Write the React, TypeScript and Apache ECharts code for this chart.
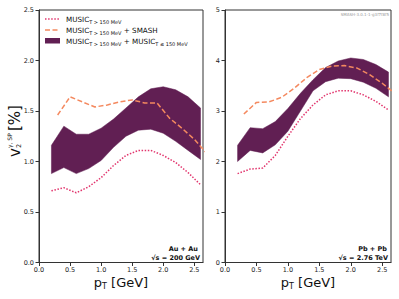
import React, { useEffect, useRef } from "react";
import * as echarts from "echarts";

// transverse momentum grid (GeV)
const pT = [0.2, 0.4, 0.6, 0.8, 1.0, 1.2, 1.4, 1.6, 1.8, 2.0, 2.2, 2.4, 2.6];
const pTSmash = [0.3, 0.5, 0.7, 0.9, 1.1, 1.3, 1.5, 1.7, 1.9, 2.1, 2.3, 2.5, 2.7];

// Au + Au, sqrt(s) = 200 GeV
const auMusic = [0.71, 0.74, 0.69, 0.75, 0.84, 0.96, 1.06, 1.11, 1.11, 1.06, 0.99, 0.89, 0.77];
const auBandLow = [0.88, 0.94, 0.88, 0.93, 1.01, 1.14, 1.25, 1.31, 1.32, 1.28, 1.2, 1.11, 1.02];
const auBandHigh = [1.16, 1.35, 1.27, 1.27, 1.33, 1.42, 1.53, 1.64, 1.72, 1.74, 1.71, 1.64, 1.53];
const auSmash = [1.46, 1.64, 1.59, 1.54, 1.56, 1.59, 1.61, 1.58, 1.58, 1.43, 1.33, 1.22, 1.08];

// Pb + Pb, sqrt(s) = 2.76 TeV
const pbMusic = [1.76, 1.85, 1.87, 2.12, 2.5, 2.85, 3.12, 3.32, 3.4, 3.4, 3.32, 3.19, 3.02];
const pbBandLow = [2.0, 2.22, 2.17, 2.33, 2.6, 3.0, 3.4, 3.58, 3.65, 3.64, 3.57, 3.45, 3.28];
const pbBandHigh = [2.32, 2.67, 2.65, 2.79, 3.05, 3.35, 3.62, 3.86, 3.99, 4.05, 4.02, 3.92, 3.77];
const pbSmash = [2.94, 3.17, 3.18, 3.27, 3.45, 3.66, 3.82, 3.89, 3.9, 3.85, 3.72, 3.55, 3.35];

const xTickValues = [0, 0.5, 1.0, 1.5, 2.0, 2.5];
const auYTicks = [0, 0.5, 1.0, 1.5, 2.0, 2.5];
const pbYTicks = [0, 1, 2, 3, 4, 5];

const COL_BAND = "#611f53";
const COL_DOT = "#e2366e";
const COL_DASH = "#f4895f";
const FONT = "DejaVu Sans";
const AX = "#333";

const pairs = (xs: number[], ys: number[]) => ys.map((y, i) => [xs[i], y]);

function panelSeries(idx: number, music: number[], lo: number[], hi: number[], smash: number[]) {
  return [
    {
      type: "custom",
      xAxisIndex: idx,
      yAxisIndex: idx,
      data: pT.map((x, i) => [x, lo[i], hi[i]]),
      encode: { x: 0, y: [1, 2] },
      silent: true,
      z: 1,
      renderItem: (params: any, api: any) => {
        if (params.dataIndex !== 0) return null;
        const upper = pT.map((x, i) => api.coord([x, hi[i]]));
        const lower = pT.map((x, i) => api.coord([x, lo[i]])).reverse();
        return {
          type: "polygon",
          shape: { points: upper.concat(lower) },
          style: { fill: COL_BAND, stroke: COL_BAND, lineWidth: 0.5 },
        };
      },
    },
    {
      type: "line",
      xAxisIndex: idx,
      yAxisIndex: idx,
      data: pairs(pT, music),
      symbol: "none",
      lineStyle: { color: COL_DOT, width: 1.5, type: [1.5, 1.6] },
      z: 3,
    },
    {
      type: "line",
      xAxisIndex: idx,
      yAxisIndex: idx,
      data: pairs(pTSmash, smash),
      symbol: "none",
      lineStyle: { color: COL_DASH, width: 1.5, type: [5, 2.5] },
      z: 3,
    },
  ];
}

function xAxis(idx: number) {
  return {
    type: "value",
    gridIndex: idx,
    min: 0,
    max: 2.64,
    interval: 0.5,
    axisLine: { show: true, lineStyle: { color: AX, width: 1 } },
    axisTick: { show: true, inside: false, length: 3.5, lineStyle: { color: AX }, customValues: xTickValues },
    axisLabel: {
      color: "#222",
      fontSize: 6.5,
      fontFamily: FONT,
      margin: 4,
      customValues: xTickValues,
      formatter: (v: number) => v.toFixed(1),
    },
    splitLine: { show: false },
  };
}

function yAxis(idx: number, max: number, interval: number, ticks: number[], dec: number) {
  return {
    type: "value",
    gridIndex: idx,
    min: 0,
    max,
    interval,
    axisLine: { show: true, lineStyle: { color: AX, width: 1 } },
    axisTick: { show: true, inside: false, length: 3.5, lineStyle: { color: AX }, customValues: ticks },
    axisLabel: {
      color: "#222",
      fontSize: 6.5,
      fontFamily: FONT,
      margin: 5,
      customValues: ticks,
      formatter: (v: number) => v.toFixed(dec),
    },
    splitLine: { show: false },
  };
}

const subRich = (main: number, sub: number) => ({
  m: { fontSize: main, fontFamily: FONT, fill: "#111", lineHeight: main + 3, verticalAlign: "middle" },
  s: { fontSize: sub, fontFamily: FONT, fill: "#111", lineHeight: sub, verticalAlign: "bottom" },
});

function xName(cx: number) {
  return {
    type: "text",
    x: cx,
    y: 282,
    style: {
      text: "{m|p}{s|T}{m| [GeV]}",
      rich: subRich(13, 8),
      align: "center",
      verticalAlign: "middle",
    },
  };
}

export default function App() {
  const ref = useRef<HTMLDivElement>(null);
  useEffect(() => {
    if (!ref.current) return;
    const chart = echarts.init(ref.current, null, { renderer: "svg" });
    const option: any = {
      animation: false,
      backgroundColor: "#fff",
      grid: [
        { left: 39, top: 10, width: 164, height: 252.5, show: true, borderColor: AX, borderWidth: 1, backgroundColor: "transparent" },
        { left: 225, top: 10, width: 166, height: 252.5, show: true, borderColor: AX, borderWidth: 1, backgroundColor: "transparent" },
      ],
      xAxis: [xAxis(0), xAxis(1)],
      yAxis: [yAxis(0, 2.5, 0.5, auYTicks, 1), yAxis(1, 5, 1, pbYTicks, 0)],
      series: [
        ...panelSeries(0, auMusic, auBandLow, auBandHigh, auSmash),
        ...panelSeries(1, pbMusic, pbBandLow, pbBandHigh, pbSmash),
      ],
      graphic: [
        // legend
        { type: "line", shape: { x1: 45, y1: 19, x2: 60, y2: 19 }, style: { stroke: COL_DOT, lineWidth: 1.5, lineDash: [1.5, 1.6] } },
        { type: "text", x: 66, y: 19, style: { text: "{m|MUSIC}{s|T > 150 MeV}", rich: subRich(7.2, 5), verticalAlign: "middle" } },
        { type: "line", shape: { x1: 45, y1: 30, x2: 60, y2: 30 }, style: { stroke: COL_DASH, lineWidth: 1.5, lineDash: [5, 2.5] } },
        { type: "text", x: 66, y: 30, style: { text: "{m|MUSIC}{s|T > 150 MeV}{m| + SMASH}", rich: subRich(7.2, 5), verticalAlign: "middle" } },
        { type: "rect", shape: { x: 45, y: 38, width: 15, height: 5.5 }, style: { fill: COL_BAND } },
        { type: "text", x: 66, y: 41, style: { text: "{m|MUSIC}{s|T > 150 MeV}{m| + MUSIC}{s|T ≤ 150 MeV}", rich: subRich(7.2, 5), verticalAlign: "middle" } },
        // annotations
        { type: "text", x: 198, y: 249, style: { text: "Au + Au", fontSize: 6.5, fontWeight: "bold", fontFamily: FONT, fill: "#111", align: "right", verticalAlign: "middle" } },
        { type: "text", x: 200, y: 257.5, style: { text: "√s = 200 GeV", fontSize: 6.5, fontWeight: "bold", fontFamily: FONT, fill: "#111", align: "right", verticalAlign: "middle" } },
        { type: "text", x: 387, y: 249, style: { text: "Pb + Pb", fontSize: 6.5, fontWeight: "bold", fontFamily: FONT, fill: "#111", align: "right", verticalAlign: "middle" } },
        { type: "text", x: 388, y: 257.5, style: { text: "√s = 2.76 TeV", fontSize: 6.5, fontWeight: "bold", fontFamily: FONT, fill: "#111", align: "right", verticalAlign: "middle" } },
        { type: "text", x: 389, y: 14, style: { text: "SMASH-3.0.1-1-g3f7f8f5", fontSize: 4, fontFamily: FONT, fill: "#999", align: "right", verticalAlign: "middle" } },
        // x axis names
        xName(121),
        xName(308),
        // y axis label (rotated)
        {
          type: "group",
          x: 15,
          y: 157,
          rotation: Math.PI / 2,
          children: [
            { type: "text", x: 0, y: 0, style: { text: "v", fontSize: 15, fontFamily: FONT, fill: "#111", verticalAlign: "middle" } },
            { type: "text", x: 9, y: 4, style: { text: "2", fontSize: 6.5, fontFamily: FONT, fill: "#111", verticalAlign: "middle" } },
            { type: "text", x: 9, y: -5.5, style: { text: "γ, SP", fontSize: 6, fontFamily: FONT, fill: "#111", verticalAlign: "middle" } },
            { type: "text", x: 26, y: 0, style: { text: "[%]", fontSize: 15, fontFamily: FONT, fill: "#111", verticalAlign: "middle" } },
          ],
        },
      ],
    };
    chart.setOption(option);
    return () => chart.dispose();
  }, []);
  return <div ref={ref} style={{ width: 399, height: 299, position: "absolute", left: 0, top: 0 }} />;
}
